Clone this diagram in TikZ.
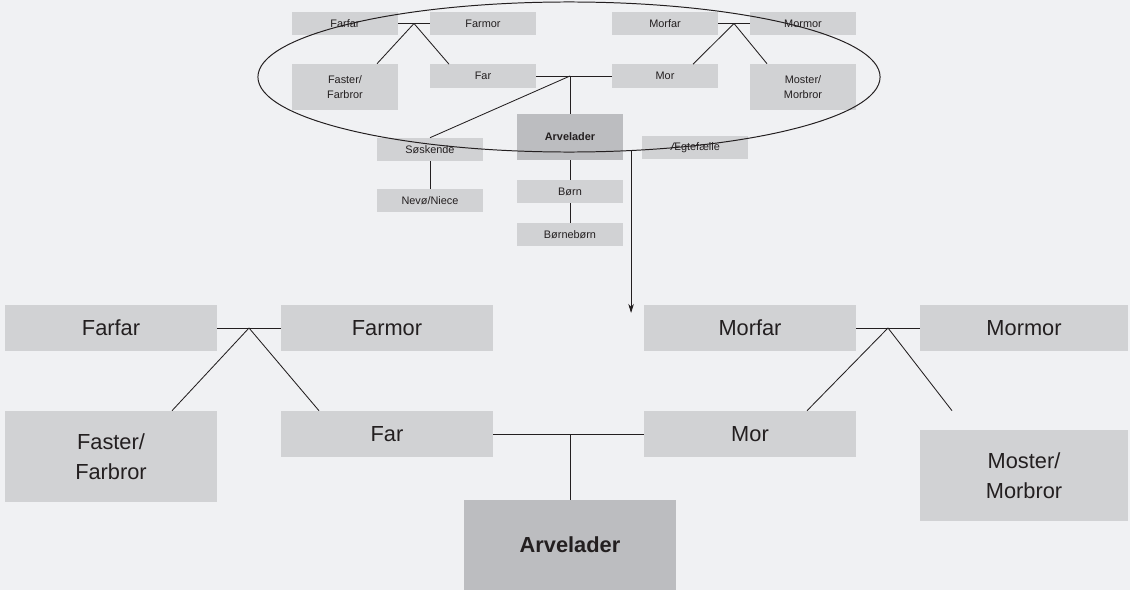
\documentclass[tikz,border=0pt]{standalone}
\usepackage{fontspec}
\setmainfont{Liberation Sans}
\usetikzlibrary{shapes.geometric, arrows.meta, calc}

\definecolor{bggrey}{HTML}{F0F1F3}
\definecolor{boxgrey}{HTML}{D1D2D4}
\definecolor{arvgrey}{HTML}{BCBDC0}
\definecolor{inkgrey}{HTML}{231F20}

\begin{document}
\begin{tikzpicture}[
    x=0.025cm, y=-0.025cm,
    % Large boxes
    bigbox/.style={
        rectangle,
        fill=boxgrey,
        text=inkgrey,
        minimum width=5.3cm,
        minimum height=1.15cm,
        inner sep=0pt,
        align=center,
        font=\fontsize{15.5}{21}\selectfont
    },
    bigtall/.style={
        bigbox,
        minimum height=2.275cm
    },
    bigarv/.style={
        bigbox,
        fill=arvgrey,
        minimum height=2.25cm,
        font=\fontsize{15.5}{21}\selectfont\bfseries
    },
    % Small boxes
    smallbox/.style={
        rectangle,
        fill=boxgrey,
        text=inkgrey,
        minimum width=2.65cm,
        minimum height=0.575cm,
        inner sep=0pt,
        align=center,
        font=\fontsize{7.75}{10.5}\selectfont
    },
    smalltall/.style={
        smallbox,
        minimum height=1.15cm
    },
    smallarv/.style={
        smalltall,
        fill=arvgrey,
        font=\fontsize{7.75}{10.5}\selectfont\bfseries
    },
    link/.style={
        draw=inkgrey,
        line width=0.6pt
    },
    arrow/.style={
        -{Stealth[length=6.5pt, width=4pt]},
        draw=inkgrey,
        line width=0.6pt
    }
]

\fill[bggrey] (0,0) rectangle (1130,590);

% === Small overview: grandparents ===
\node[smallbox] (sfarfar) at (345, 23.5) {Farfar};
\node[smallbox] (sfarmor) at (483, 23.5) {Farmor};
\node[smallbox] (smorfar) at (665, 23.5) {Morfar};
\node[smallbox] (smormor) at (803, 23.5) {Mormor};

% === Small overview: parents and their siblings ===
\node[smalltall] (sfaster) at (345, 87) {Faster/\\Farbror};
\node[smallbox] (sfar) at (483, 76) {Far};
\node[smallbox] (smor) at (665, 76) {Mor};
\node[smalltall] (smoster) at (803, 87) {Moster/\\Morbror};

% === Small overview: the deceased and descendants ===
\node[smallarv] (sarv) at (570, 137) {Arvelader};
\node[smallbox] (ssosk) at (430, 149.5) {Søskende};
\node[smallbox] (snevo) at (430, 200.5) {Nevø/Niece};
\node[smallbox] (saegt) at (695, 147.5) {Ægtefælle};
\node[smallbox] (sborn) at (570, 191.5) {Børn};
\node[smallbox] (sbornb) at (570, 234.5) {Børnebørn};

\coordinate (sfj) at ($(sfarfar.east)!0.5!(sfarmor.west)$);
\coordinate (smj) at ($(smorfar.east)!0.5!(smormor.west)$);
\coordinate (spj) at (sfar.east -| sarv.north);

\draw[link] (sfarfar) -- (sfarmor);
\draw[link] (sfj) -- ($(sfaster.north)+(32,0)$);
\draw[link] (sfj) -- ($(sfar.north)+(-34,0)$);
\draw[link] (smorfar) -- (smormor);
\draw[link] (smj) -- ($(smor.north)+(28,0)$);
\draw[link] (smj) -- ($(smoster.north)+(-36,0)$);
\draw[link] (sfar) -- (smor);
\draw[link] (spj) -- (sarv.north);
\draw[link] (spj) -- (ssosk.north);
\draw[link] (ssosk) -- (snevo);
\draw[link] (sarv) -- (sborn);
\draw[link] (sborn) -- (sbornb);

% === Ring round the close family ===
\node[ellipse, draw=inkgrey, line width=0.7pt, minimum width=15.55cm,
      minimum height=3.75cm, inner sep=0pt] (ring) at (569, 77) {};

% === Zoom arrow ===
\coordinate (pil) at (631, 313);
\draw[arrow] (ring.-50) -- (ring.-50 |- pil);

% === Large detail: grandparents ===
\node[bigbox] (farfar) at (111, 328) {Farfar};
\node[bigbox] (farmor) at (387, 328) {Farmor};
\node[bigbox] (morfar) at (750, 328) {Morfar};
\node[bigbox, minimum width=5.2cm] (mormor) at (1024, 328) {Mormor};

% === Large detail: parents and their siblings ===
\node[bigtall] (faster) at (111, 456.5) {Faster/\\Farbror};
\node[bigbox] (far) at (387, 434) {Far};
\node[bigbox] (mor) at (750, 434) {Mor};
\node[bigtall, minimum width=5.2cm] (moster) at (1024, 475.5) {Moster/\\Morbror};

% === Large detail: the deceased ===
\node[bigarv] (arv) at (570, 545) {Arvelader};

\coordinate (fj) at ($(farfar.east)!0.5!(farmor.west)$);
\coordinate (mj) at ($(morfar.east)!0.5!(mormor.west)$);
\coordinate (pj) at (far.east -| arv.north);

\draw[link] (farfar) -- (farmor);
\draw[link] (fj) -- ($(faster.north)+(61,0)$);
\draw[link] (fj) -- ($(far.north)+(-68,0)$);
\draw[link] (morfar) -- (mormor);
\draw[link] (mj) -- ($(mor.north)+(57,0)$);
\draw[link] (mj) -- ($(moster.north)+(-72,-19)$);
\draw[link] (far) -- (mor);
\draw[link] (pj) -- (arv.north);

\end{tikzpicture}
\end{document}
